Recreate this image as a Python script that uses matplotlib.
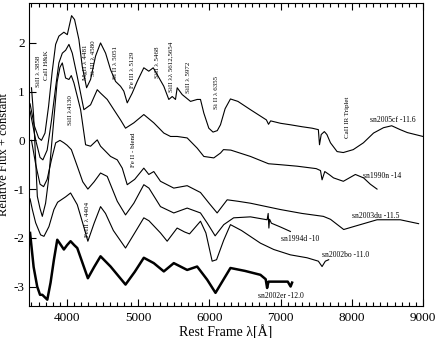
import matplotlib
matplotlib.use('Agg')
import matplotlib.pyplot as plt
from matplotlib.ticker import MultipleLocator

plt.rcParams['font.family'] = ['Liberation Serif', 'DejaVu Serif']
plt.rcParams['axes.unicode_minus'] = False

# spectra (rest wavelength in A, relative flux + offset)
wl_05cf = [3480, 3540, 3600, 3640, 3690, 3740, 3790, 3839, 3885, 3955, 4003, 4063, 4105, 4166, 4213, 4274, 4330, 4400, 4470, 4541, 4611, 4681, 4751, 4797, 4845, 4915, 4985, 5078, 5148, 5210, 5266, 5359, 5429, 5477, 5523, 5547, 5617, 5734, 5828, 5874, 5921, 5991, 6050, 6110, 6155, 6220, 6295, 6400, 6576, 6800, 6830, 6860, 7000, 7137, 7300, 7442, 7530, 7546, 7570, 7614, 7650, 7700, 7793, 7880, 8020, 8163, 8305, 8445, 8560, 8680, 8780, 9000]
fx_05cf = [0.75, 0.3, 0.05, 0.0, 0.15, 0.7, 1.4, 1.97, 2.14, 2.22, 2.17, 2.56, 2.48, 2.07, 1.52, 1.08, 1.25, 1.73, 2.0, 1.79, 1.45, 1.21, 1.11, 1.01, 0.77, 0.97, 1.21, 1.49, 1.42, 1.49, 1.35, 1.11, 0.84, 0.9, 0.84, 1.08, 0.94, 0.8, 0.84, 0.84, 0.56, 0.25, 0.17, 0.2, 0.32, 0.65, 0.85, 0.8, 0.63, 0.42, 0.33, 0.4, 0.35, 0.32, 0.28, 0.25, 0.22, -0.09, 0.12, 0.18, 0.12, -0.05, -0.23, -0.25, -0.19, -0.05, 0.15, 0.26, 0.3, 0.22, 0.16, 0.08]

wl_90n = [3480, 3560, 3620, 3660, 3720, 3780, 3840, 3885, 3933, 3980, 4026, 4073, 4143, 4236, 4330, 4424, 4470, 4564, 4657, 4751, 4821, 4938, 5078, 5218, 5359, 5453, 5547, 5687, 5828, 5921, 6061, 6155, 6197, 6300, 6576, 6830, 7000, 7231, 7500, 7560, 7582, 7620, 7680, 7743, 7881, 8050, 8165, 8260, 8354]
fx_90n = [0.6, 0.0, -0.35, -0.4, -0.2, 0.4, 1.1, 1.59, 1.79, 1.85, 1.97, 1.79, 1.31, 0.63, 0.73, 1.04, 0.97, 0.84, 0.63, 0.42, 0.25, 0.36, 0.53, 0.36, 0.15, 0.08, 0.08, 0.05, -0.16, -0.33, -0.36, -0.26, -0.19, -0.2, -0.33, -0.48, -0.5, -0.53, -0.58, -0.62, -0.81, -0.64, -0.7, -0.77, -0.84, -0.7, -0.77, -0.9, -1.0]

wl_03du = [3500, 3530, 3582, 3620, 3652, 3698, 3740, 3800, 3860, 3900, 3933, 3979, 4026, 4059, 4096, 4190, 4260, 4330, 4424, 4470, 4611, 4705, 4775, 4845, 4950, 5078, 5148, 5218, 5312, 5499, 5687, 5874, 6000, 6108, 6249, 6400, 6576, 6997, 7300, 7600, 7700, 7886, 8025, 8354, 8680, 8938]
fx_03du = [1.08, 0.5, -1.15, -1.4, -1.56, -1.29, -0.8, 0.2, 1.2, 1.5, 1.59, 1.28, 1.25, 1.33, 1.18, 0.63, -0.09, -0.12, 0.01, -0.12, -0.33, -0.4, -0.57, -0.91, -0.8, -0.57, -0.7, -0.64, -0.84, -0.98, -0.93, -1.07, -1.3, -1.49, -1.22, -1.25, -1.29, -1.42, -1.5, -1.56, -1.62, -1.83, -1.77, -1.63, -1.63, -1.71]

wl_94d = [3500, 3560, 3620, 3670, 3720, 3780, 3840, 3900, 3955, 4000, 4060, 4143, 4220, 4292, 4380, 4470, 4564, 4705, 4821, 4938, 5078, 5150, 5312, 5499, 5687, 5874, 5970, 6080, 6201, 6340, 6576, 6810, 6825, 6835, 6845, 6870, 7000, 7137]
fx_94d = [0.0, -0.5, -0.9, -0.95, -0.8, -0.4, -0.05, 0.0, -0.05, -0.1, -0.19, -0.53, -0.85, -1.0, -0.85, -0.67, -0.74, -1.25, -1.53, -1.29, -0.91, -0.98, -1.36, -1.49, -1.39, -1.49, -1.7, -1.96, -1.73, -1.59, -1.57, -1.63, -1.5, -1.8, -1.62, -1.7, -1.78, -1.87]

wl_02bo = [3480, 3512, 3558, 3628, 3675, 3745, 3815, 3867, 3979, 4049, 4143, 4220, 4292, 4380, 4470, 4540, 4650, 4821, 4950, 5078, 5150, 5312, 5406, 5546, 5650, 5720, 5874, 5950, 6038, 6100, 6200, 6295, 6450, 6716, 6903, 7137, 7371, 7530, 7582, 7628, 7675]
fx_02bo = [-1.2, -1.42, -1.69, -1.94, -1.97, -1.77, -1.42, -1.27, -1.16, -1.08, -1.32, -1.7, -2.07, -1.7, -1.36, -1.5, -1.85, -2.21, -1.9, -1.59, -1.65, -1.9, -2.07, -1.8, -1.88, -1.92, -1.66, -1.9, -2.48, -2.45, -2.05, -1.73, -1.85, -2.11, -2.24, -2.35, -2.41, -2.48, -2.59, -2.48, -2.45]

wl_02er = [3480, 3530, 3580, 3620, 3652, 3722, 3768, 3815, 3862, 3900, 3955, 4000, 4049, 4100, 4143, 4292, 4380, 4470, 4611, 4821, 4950, 5078, 5218, 5359, 5499, 5687, 5827, 5968, 6085, 6200, 6295, 6500, 6716, 6790, 6810, 6830, 6951, 7100, 7140, 7161]
fx_02er = [-1.9, -2.6, -3.0, -3.17, -3.17, -3.27, -2.92, -2.45, -2.04, -2.12, -2.24, -2.15, -2.07, -2.15, -2.21, -2.83, -2.6, -2.38, -2.59, -2.96, -2.7, -2.41, -2.52, -2.69, -2.52, -2.66, -2.59, -2.86, -3.13, -2.85, -2.62, -2.68, -2.76, -2.85, -3.03, -2.9, -2.9, -2.9, -3.0, -2.92]

spec_names = ['sn2005cf -11.6', 'sn1990n -14', 'sn2003du -11.5', 'sn1994d -10', 'sn2002bo -11.0', 'sn2002er -12.0']
name_wl = [8580, 8425, 8330, 7277, 7909, 6997]
name_fx = [0.41, -0.74, -1.56, -2.02, -2.35, -3.19]

line_ids = ['SiII λ 3858', 'CaII H&K', 'SiII λ4130', 'MgII λ 4481', 'Si III λ 4580', 'Si II λ 5051', 'Fe III λ 5129', 'SiII λ 5468', 'SiII λλ 5612,5654', 'SiII λ 5972', 'Si II λ 6355', 'CaII IR Triplet', 'Fe II - blend', 'FeIII λ 4404']
id_wl = [3604, 3712, 4049, 4260, 4376, 4681, 4915, 5266, 5453, 5710, 6095, 7934, 4934, 4283]
id_fx = [1.42, 1.55, 0.63, 1.61, 1.68, 1.6, 1.45, 1.6, 1.51, 1.29, 0.98, 0.48, -0.19, -1.63]

fig = plt.figure(figsize=(4.36, 3.38), dpi=100, facecolor='white')
ax = fig.add_axes([29/436, 1-306/338, 394/436, 303.5/338])

for wl, fx in [(wl_05cf, fx_05cf), (wl_90n, fx_90n), (wl_03du, fx_03du), (wl_94d, fx_94d), (wl_02bo, fx_02bo)]:
    ax.plot(wl, fx, color='black', lw=0.8)
ax.plot(wl_02er, fx_02er, color='black', lw=1.8)

for name, x, y in zip(spec_names, name_wl, name_fx):
    ax.text(x, y, name, fontsize=5.5, ha='center', va='center')
for name, x, y in zip(line_ids, id_wl, id_fx):
    ax.text(x, y, name, fontsize=5, rotation=90, ha='center', va='center')

ax.set_xlim(3465, 9000); ax.set_ylim(-3.4, 2.83)
ax.xaxis.set_major_locator(MultipleLocator(1000)); ax.xaxis.set_minor_locator(MultipleLocator(100))
ax.yaxis.set_major_locator(MultipleLocator(1))
ax.tick_params(axis='x', which='both', direction='in', top=True, labelsize=9.5, pad=4)
ax.tick_params(axis='x', which='major', length=5, width=0.8); ax.tick_params(axis='x', which='minor', length=3, width=0.8)
ax.tick_params(axis='y', which='major', direction='in', length=5, width=0.8, labelsize=9.5, pad=3)
for s in ax.spines.values():
    s.set_linewidth(0.8)
ax.set_xlabel('Rest Frame λ[Å]', fontsize=10, labelpad=1)
ax.set_ylabel('Relative Flux + constant', fontsize=9)
ax.yaxis.set_label_coords(-0.047, 0.5)
fig.savefig('out.png', dpi=100, facecolor='white')
